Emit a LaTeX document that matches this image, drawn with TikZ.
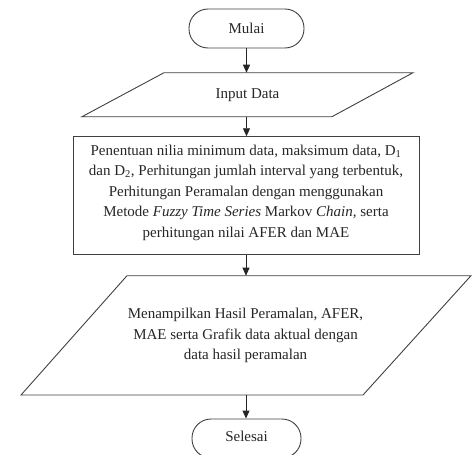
\documentclass[tikz,border=0pt]{standalone}
\usepackage{fontspec}
\setmainfont{Liberation Serif}
\usetikzlibrary{arrows.meta}
\begin{document}
\begin{tikzpicture}[x=1pt,y=-1pt,
  shapeline/.style={draw=black!75, line width=0.9pt},
  terminal/.style={shapeline, rounded corners=19pt, inner sep=0pt},
  txt/.style={font=\fontsize{15}{20.5}\selectfont, align=center, inner sep=0pt, text=black!85},
  flow/.style={draw=black!85, line width=0.9pt, -{Triangle[length=8pt,width=7pt]}}]
\useasboundingbox (0,0) rectangle (472,455);
% terminals
\node[terminal, minimum width=115pt, minimum height=39pt, txt] (mulai) at (246.5,28.5) {Mulai};
\node[terminal, minimum width=109pt, minimum height=39pt] (selesai) at (246.5,438.5) {};
\node[txt] (selesaitxt) at (246.5,436.5) {Selesai};
% input parallelogram
\draw[shapeline] (82,116.7) coordinate (inSW) -- (164,72.7) coordinate (inNW) -- (413,72.7) coordinate (inNE) -- (332,116.7) coordinate (inSE) -- cycle;
\coordinate (in-n) at (246.5,72.7);
\coordinate (in-s) at (246.5,116.7);
\node[txt] (input) at (247.5,95) {Input Data};
% process box
\node[shapeline, minimum width=346pt, minimum height=117.6pt, inner sep=0pt] (proc) at (246,195.5) {};
\node[txt] (proctxt) at (246,192.5) {Penentuan nilia minimum data, maksimum data, D\textsubscript{1}\\
dan D\textsubscript{2}, Perhitungan jumlah interval yang terbentuk,\\
Perhitungan Peramalan dengan menggunakan\\
Metode \textit{Fuzzy Time Series} Markov \textit{Chain,} serta\\
perhitungan nilai AFER dan MAE};
% output parallelogram
\draw[shapeline] (21,395) coordinate (outSW) -- (127,275.7) coordinate (outNW) -- (471,275.7) coordinate (outNE) -- (363,395) coordinate (outSE) -- cycle;
\coordinate (out-n) at (246,275.7);
\coordinate (out-s) at (246,395);
\node[txt] (outtxt) at (245.5,335.5) {Menampilkan Hasil Peramalan, AFER,\\
MAE serta Grafik data aktual dengan\\
data hasil peramalan};
% connectors
\draw[flow] (mulai.south) -- (in-n);
\draw[flow] (in-s) -- (in-s |- proc.north);
\draw[flow] (proc.south) -- (out-n);
\draw[flow] (out-s) -- (out-s |- selesai.north);
\end{tikzpicture}
\end{document}
